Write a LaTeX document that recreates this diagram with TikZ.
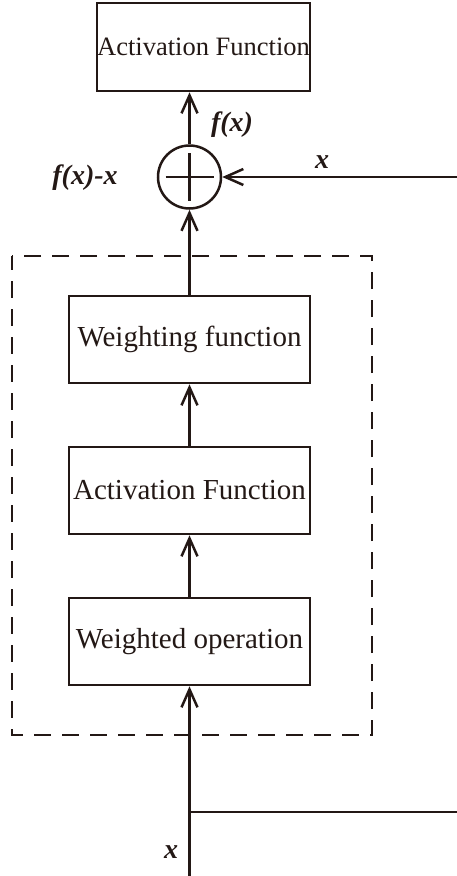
\documentclass[tikz,border=0pt]{standalone}
\usepackage{fontspec}
\setmainfont{Liberation Serif}
\usetikzlibrary{arrows.meta}
\definecolor{ink}{HTML}{231815}
\begin{document}
\begin{tikzpicture}[x=1pt,y=-1pt,
  every node/.style={text=ink},
  blk/.style={draw=ink,line width=2.5pt,minimum width=241pt,minimum height=87pt,inner sep=0pt,font=\fontsize{29}{33}\selectfont},
  lbl/.style={font=\fontsize{28}{32}\selectfont\bfseries\itshape,inner sep=0pt},
  arr/.style={draw=ink,line width=2.5pt,-{Straight Barb[length=18pt,width=16pt,line width=2.5pt]}},
  ln/.style={draw=ink,line width=2.5pt}]
\useasboundingbox (0,0) rectangle (457,876);
% dashed frame
\draw[draw=ink,line width=2.3pt,dash pattern=on 17pt off 11pt,dash phase=3pt] (12,256) rectangle (372,735);
% boxes
\node[blk,minimum width=213pt,minimum height=88pt,font=\fontsize{26.5}{30}\selectfont] (top) at (203.5,47) {Activation Function};
\node[blk] (wf) at (189.5,339.5) {Weighting function};
\node[blk] (af) at (189.5,490.5) {Activation Function};
\node[blk] (wo) at (189.5,641.5) {Weighted operation};
% sum circle
\node[circle,draw=ink,line width=2.5pt,minimum size=63pt,inner sep=0pt] (sum) at (189.5,177) {};
\draw[ln] (sum.center) ++(-24,0) -- ++(48,0);
\draw[ln] (sum.center) ++(0,-24) -- ++(0,48);
% coordinates
\coordinate (in) at (189.5,876);
\coordinate (br) at (189.5,812);
\coordinate (bre) at (457,812);
\coordinate (sre) at (457,177);
% connectors
\draw[arr] (in) -- (wo.south);
\draw[ln] (br) -- (bre);
\draw[arr] (wo.north) -- (af.south);
\draw[arr] (af.north) -- (wf.south);
\draw[arr] (wf.north) -- (sum.south);
\draw[arr] (sre) -- (sum.east);
\draw[arr] (sum.north) -- (sum.north |- top.south);
% labels
\node[lbl] (lfx) at (232,125) {f(x)};
\node[lbl] (lfxx) at (85,178) {f(x)-x};
\node[lbl] (lx1) at (322,162) {x};
\node[lbl] (lx2) at (171,852) {x};
\end{tikzpicture}
\end{document}
